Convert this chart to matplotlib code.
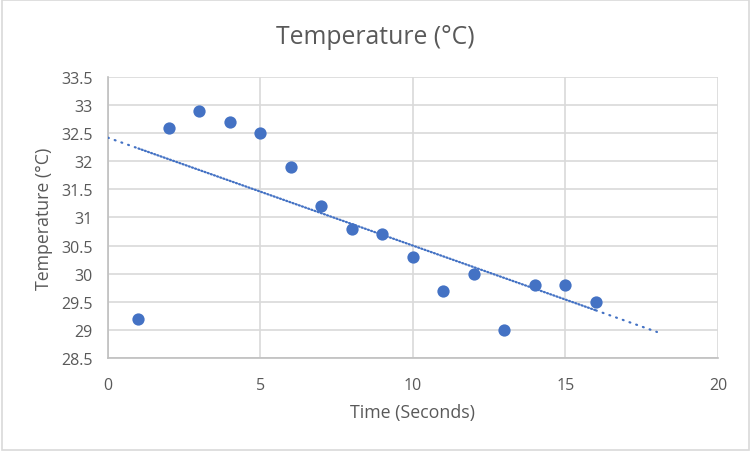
import numpy as np
import matplotlib.pyplot as plt

plt.rcParams['font.family'] = ['Open Sans', 'DejaVu Sans']

# data
time_s = [1, 2, 3, 4, 5, 6, 7, 8, 9, 10, 11, 12, 13, 14, 15, 16]
temp_c = [29.2, 32.6, 32.9, 32.7, 32.5, 31.9, 31.2, 30.8, 30.7, 30.3,
          29.7, 30.0, 29.0, 29.8, 29.8, 29.5]
x_ticks = [0, 5, 10, 15, 20]
y_ticks = [28.5, 29, 29.5, 30, 30.5, 31, 31.5, 32, 32.5, 33, 33.5]

blue = "#4472C4"
grey_txt = "#595959"
grid_col = "#d9d9d9"

fig = plt.figure(figsize=(7.51, 4.52), dpi=100)
ax = fig.add_axes([0.1438, 0.2058, 0.8122, 0.6216])

# linear trendline, backward to 0 and forward to 18
slope, icpt = np.polyfit(time_s, temp_c, 1)
x_in = np.array([min(time_s), max(time_s)])
x_back = np.array([0, min(time_s)])
x_fwd = np.array([max(time_s), 18])
ax.plot(x_in, slope * x_in + icpt, color=blue, lw=1.6,
        linestyle=(0, (0.5, 1.0)), dash_capstyle="round", zorder=3)
for xs in (x_back, x_fwd):
    ax.plot(xs, slope * xs + icpt, color=blue, lw=1.6,
            linestyle=(0, (0.4, 2.8)), dash_capstyle="round", zorder=3)

ax.scatter(time_s, temp_c, s=78, color=blue, zorder=4, linewidths=0)

ax.set_xlim(0, 20)
ax.set_ylim(28.5, 33.5)
ax.set_xticks(x_ticks)
ax.set_yticks(y_ticks)
ax.set_yticklabels([f"{v:g}" for v in y_ticks])
ax.tick_params(length=0, labelsize=11.5, colors=grey_txt)
ax.tick_params(axis="x", pad=14)
ax.tick_params(axis="y", pad=11)
ax.grid(True, color=grid_col, lw=1.2)
ax.set_axisbelow(True)
for side in ("top", "right"):
    ax.spines[side].set_visible(False)
for side in ("left", "bottom"):
    ax.spines[side].set_color("#bfbfbf")
    ax.spines[side].set_linewidth(1.2)

# chart title is centred on the whole chart, not the plot area
fig.text(0.5, 1 - 38 / 452, "Temperature (°C)", fontsize=17.8, color=grey_txt,
         ha="center", va="center")
ax.set_xlabel("Time (Seconds)", fontsize=12.8, color=grey_txt, labelpad=7)
ax.set_ylabel("Temperature (°C)", fontsize=12.8, color=grey_txt, labelpad=6)

# outer chart border
fig.patches.append(plt.Rectangle((0.002, 0.003), 0.996, 0.994, transform=fig.transFigure,
                                 fill=False, edgecolor=grid_col, lw=1.2))

plt.savefig("out.png", dpi=100)
